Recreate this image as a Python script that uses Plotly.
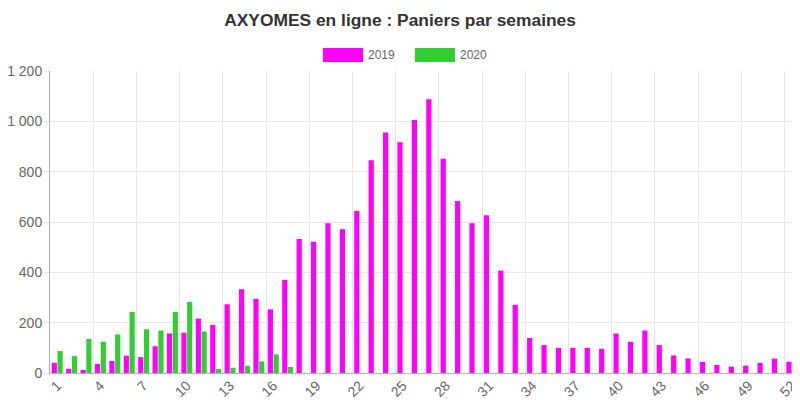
import plotly.graph_objects as go

weeks = [str(w) for w in range(1, 53)]

paniers_2019 = [40, 17, 12, 36, 48, 69, 63, 106, 157, 160,
                216, 191, 273, 333, 294, 253, 370, 532, 522, 595,
                571, 644, 845, 956, 917, 1005, 1088, 851, 683, 595,
                627, 407, 271, 139, 111, 100, 100, 100, 96, 157,
                124, 169, 111, 70, 58, 44, 32, 25, 29, 40,
                57, 45]
paniers_2020 = [87, 67, 135, 124, 153, 243, 174, 169, 243, 282,
                165, 16, 21, 29, 46, 74, 24]

col_2019 = '#ff00ff'
col_2020 = '#32cd32'
grey = '#666666'
font_family = 'Liberation Sans, Arial, sans-serif'

fig = go.Figure()
fig.add_trace(go.Bar(x=weeks, y=paniers_2019, name='2019',
                     marker=dict(color=col_2019, line=dict(width=0))))
fig.add_trace(go.Bar(x=weeks[:len(paniers_2020)], y=paniers_2020, name='2020',
                     marker=dict(color=col_2020, line=dict(width=0))))

# the page body has an 8px margin, so the figure is sized 8px smaller
fig.update_layout(
    width=792, height=392,
    margin=dict(l=42, r=1, t=63, b=27, autoexpand=False),
    plot_bgcolor='white', paper_bgcolor='white',
    barmode='group', bargap=0.2, bargroupgap=0.1,
    showlegend=False,
    separators=', ',
    font=dict(family=font_family, size=12, color=grey),
    title=dict(text='<b>AXYOMES en ligne : Paniers par semaines</b>',
               x=0.495, xref='container', xanchor='center',
               y=0.969, yref='container', yanchor='middle',
               font=dict(size=17.4, color='#333333')),
)

# legend drawn as wide boxes like the original
legend_items = [('2019', col_2019, 0.3645), ('2020', col_2020, 0.4873)]
for label, col, x0 in legend_items:
    fig.add_shape(type='rect', xref='paper', yref='paper',
                  x0=x0, x1=x0 + 0.0534, y0=1.030, y1=1.076,
                  fillcolor=col, line=dict(width=0))
    fig.add_annotation(text=label, xref='paper', yref='paper',
                       x=x0 + 0.058, y=1.053, xanchor='left', yanchor='middle',
                       showarrow=False, font=dict(size=12, color=grey))

fig.update_xaxes(type='category', dtick=3, tickangle=-45, tickson='boundaries',
                 automargin=False, ticklabelstandoff=-2,
                 showgrid=True, gridcolor='#e6e6e6', gridwidth=1,
                 showline=True, linecolor='#b3b3b3', linewidth=1,
                 ticks='', tickfont=dict(size=14, color=grey))
fig.update_yaxes(range=[0, 1200], dtick=200, tickformat=',d',
                 automargin=False, ticklabelstandoff=-2,
                 showgrid=True, gridcolor='#e6e6e6', gridwidth=1,
                 zeroline=False,
                 showline=True, linecolor='#b3b3b3', linewidth=1,
                 ticks='outside', ticklen=6, tickcolor='#e6e6e6',
                 tickfont=dict(size=14, color=grey))

fig.write_html('out.html')
